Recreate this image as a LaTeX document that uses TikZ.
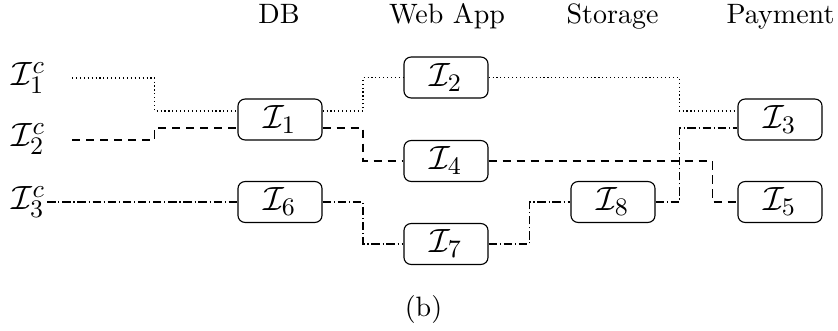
\documentclass[tikz,border=0pt]{standalone}
\usetikzlibrary{calc}
\begin{document}
\begin{tikzpicture}[x=0.357pt,y=-0.357pt,
  mathfont/.style={font=\fontsize{13.2}{16}\selectfont},
  box/.style={draw,rounded corners=2.5pt,minimum width=30pt,minimum height=14.6pt,inner sep=0pt,mathfont},
  lab/.style={inner sep=0.5pt,mathfont},
  hdr/.style={anchor=base},
  dotl/.style={densely dotted},
  dashl/.style={densely dashed},
  dashdotl/.style={densely dashdotted}]
\useasboundingbox (0,0) rectangle (838,331);
% headers
\node[hdr] (hdb) at (279,24) {DB};
\node[hdr] (hweb) at (447,24) {Web App};
\node[hdr] (hsto) at (612.5,24) {Storage};
\node[hdr] (hpay) at (780.5,24) {Payment};
% input labels
\node[lab] (c1) at (28.5,78) {$\mathcal{I}_1^c$};
\node[lab] (c2) at (28.5,139) {$\mathcal{I}_2^c$};
\node[lab] (c3) at (28.5,202) {$\mathcal{I}_3^c$};
\coordinate (s1) at (72,78);
\coordinate (s2) at (72,140);
% boxes
\node[box] (i1) at (280,119.5) {$\mathcal{I}_1$};
\node[box] (i2) at (446,77.5) {$\mathcal{I}_2$};
\node[box] (i4) at (446,161) {$\mathcal{I}_4$};
\node[box] (i6) at (280,202) {$\mathcal{I}_6$};
\node[box] (i7) at (446,244) {$\mathcal{I}_7$};
\node[box] (i8) at (613,202) {$\mathcal{I}_8$};
\node[box] (i3) at (780,119.5) {$\mathcal{I}_3$};
\node[box] (i5) at (780,202) {$\mathcal{I}_5$};
% ports
\coordinate (i1aw) at ($(i1.west)+(0,-8.5)$);
\coordinate (i1bw) at ($(i1.west)+(0,8.5)$);
\coordinate (i1ae) at ($(i1.east)+(0,-8.5)$);
\coordinate (i1be) at ($(i1.east)+(0,8.5)$);
\coordinate (i3aw) at ($(i3.west)+(0,-8.5)$);
\coordinate (i3bw) at ($(i3.west)+(0,8.5)$);
\coordinate (v3a) at ($(i3aw)+(-58,0)$);
\coordinate (v3b) at ($(i3bw)+(-58,0)$);
\coordinate (v5) at ($(i5.west)+(-25,0)$);
% dotted flow
\draw[dotl] (s1) -| ($(s1)!0.5!(i1aw)$) |- (i1aw);
\draw[dotl] (i1ae) -| ($(i1ae)!0.5!(i2.west)$) |- (i2.west);
\draw[dotl] (i2.east) -| (v3a) -- (i3aw);
% dashed flow
\draw[dashl] (s2) -| ($(s2)!0.5!(i1bw)$) |- (i1bw);
\draw[dashl] (i1be) -| ($(i1be)!0.5!(i4.west)$) |- (i4.west);
\draw[dashl] (i4.east) -| (v5) -- (i5.west);
% dash-dotted flow
\draw[dashdotl] (c3.east) -- (i6.west);
\draw[dashdotl] (i6.east) -| ($(i6.east)!0.5!(i7.west)$) |- (i7.west);
\draw[dashdotl] (i7.east) -| ($(i7.east)!0.5!(i8.west)$) |- (i8.west);
\draw[dashdotl] (i8.east) -| (v3b) -- (i3bw);
% caption
\node[anchor=base] (cap) at (423.5,317) {(b)};
\end{tikzpicture}
\end{document}
